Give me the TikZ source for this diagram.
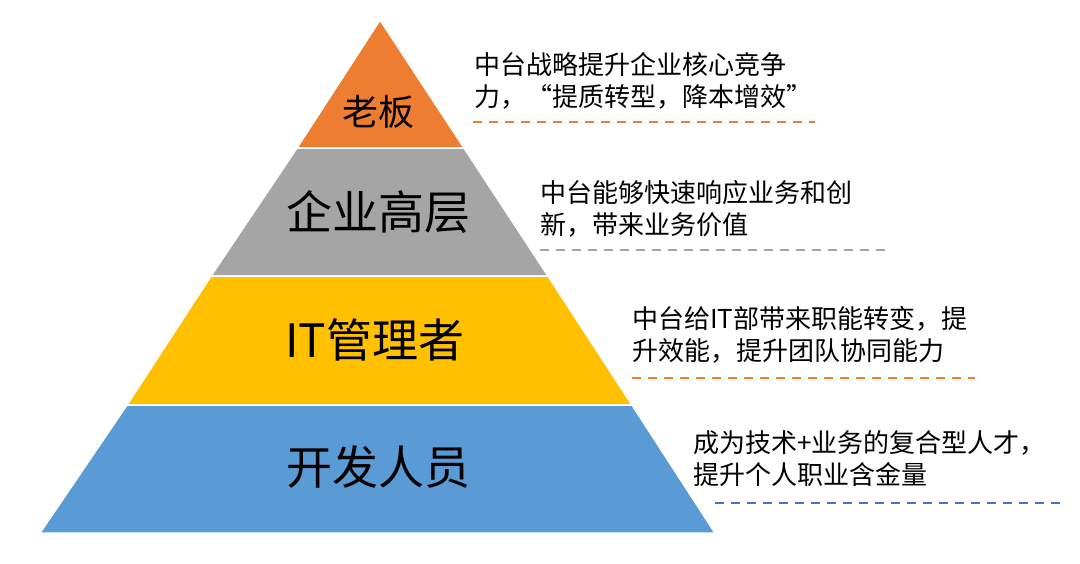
\documentclass[tikz,border=0pt]{standalone}
\usepackage{fontspec}
\setmainfont{Noto Sans CJK SC}
\begin{document}
\begin{tikzpicture}[x=1pt,y=-1pt,
  layer/.style={draw=white,line width=1.5pt},
  lbl/.style={font=\fontsize{46}{50}\selectfont},
  desc/.style={anchor=north west,align=left,font=\fontsize{26}{32}\selectfont,inner sep=0pt},
  dashline/.style={line width=1.5pt,dash pattern=on 9pt off 7pt}]
\useasboundingbox (0,0) rectangle (1080,563);
\definecolor{c1}{HTML}{ED7D31}\definecolor{c2}{HTML}{A5A5A5}
\definecolor{c3}{HTML}{FFC000}\definecolor{c4}{HTML}{5B9BD5}
\definecolor{c5}{HTML}{4472C4}
\fill[c1,layer] (380,20) -- (464,148) -- (297,148) -- cycle;
\fill[c2,layer] (297,148) -- (464,148) -- (548,276) -- (211,276) -- cycle;
\fill[c3,layer] (211,276) -- (548,276) -- (632,405) -- (127,405) -- cycle;
\fill[c4,layer] (127,405) -- (632,405) -- (715,533) -- (40,533) -- cycle;
\node[font=\fontsize{36}{40}\selectfont] (l1) at (378,112) {老板};
\node[lbl] (l2) at (378,212) {企业高层};
\node[lbl] (l3) at (375,340) {IT管理者};
\node[lbl] (l4) at (378,467) {开发人员};
\node[desc] (d1) at (474,52) {中台战略提升企业核心竞争\\力，“提质转型，降本增效”};
\node[desc] (d2) at (540,180) {中台能够快速响应业务和创\\新，带来业务价值};
\node[desc] (d3) at (632,306) {中台给IT部带来职能转变，提\\升效能，提升团队协同能力};
\node[desc] (d4) at (693,430) {成为技术+业务的复合型人才，\\提升个人职业含金量};
\coordinate (a1) at (473,122); \coordinate (b1) at (815,122);
\coordinate (a2) at (540,250); \coordinate (b2) at (888,250);
\coordinate (a3) at (632,378); \coordinate (b3) at (975,378);
\coordinate (a4) at (715,503); \coordinate (b4) at (1060,503);
\draw[dashline,c1] (a1) -- (b1);
\draw[dashline,c2] (a2) -- (b2);
\draw[dashline,c1] (a3) -- (b3);
\draw[dashline,c5] (a4) -- (b4);
\end{tikzpicture}
\end{document}
